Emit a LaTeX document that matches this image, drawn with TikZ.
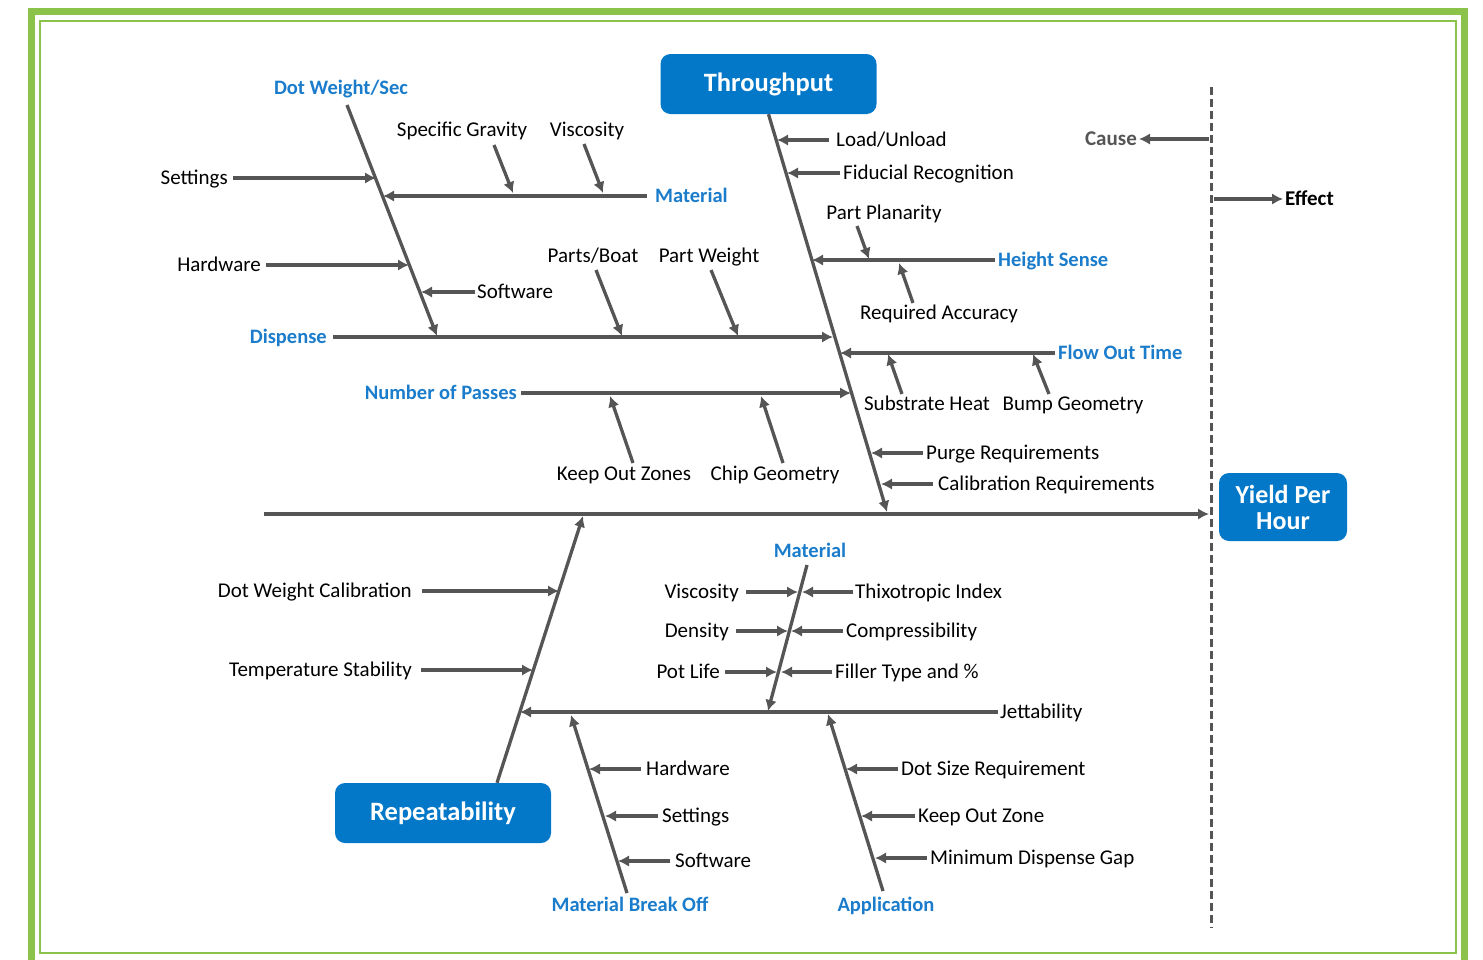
\documentclass[tikz,border=0pt]{standalone}
\usepackage{fontspec}
\setmainfont{Carlito}
\usetikzlibrary{arrows.meta,calc}
\definecolor{gline}{HTML}{555555}
\definecolor{boxblue}{HTML}{0478C8}
\definecolor{catblue}{HTML}{1A7CCB}
\definecolor{frame}{HTML}{8BC34A}
\tikzset{
  lab/.style={font=\fontsize{21}{24}\selectfont, text=black, inner sep=0pt, text height=13pt, text depth=0pt},
  cat/.style={lab, font=\bfseries\fontsize{20.5}{24}\selectfont, text=catblue},
  arr/.style={draw=gline, line width=3.3pt, -{Latex[length=11pt,width=11.5pt]}},
  box/.style={fill=boxblue, rounded corners=10pt, text=white, font=\bfseries\fontsize{26.5}{30}\selectfont, inner sep=0pt},
  dashline/.style={draw=gline, line width=3pt, dash pattern=on 8pt off 4pt}
}
\begin{document}
\begin{tikzpicture}[x=1pt,y=-1pt]
\useasboundingbox (0,0) rectangle (1483,959);
% frame
\draw[frame, line width=7pt] (31.5,11.5) rectangle (1464.5,990);
\draw[frame, line width=2pt] (40,20.5) rectangle (1455.5,952.5);

% ---------- nodes ----------
\node[box, minimum width=216pt, minimum height=60pt] (thr) at (768.5,84) {Throughput};
\node[box, minimum width=216pt, minimum height=60pt] (rep) at (443,813) {Repeatability};
\node[box, minimum width=128pt, minimum height=68pt, align=center, font=\bfseries\fontsize{26}{26}\selectfont] (yph) at (1283,507) {Yield Per\\Hour};

\node[lab, anchor=east, text=gline, font=\bfseries\fontsize{21}{24}\selectfont] (cause) at (1137,139) {Cause};
\node[lab, anchor=west, font=\bfseries\fontsize{21}{24}\selectfont] (eff) at (1285,199) {Effect};

\node[cat] (dws) at (341,88) {Dot Weight/Sec};
\node[lab, anchor=east] (set1) at (228,178) {Settings};
\node[lab, anchor=east] (hw1) at (261,265) {Hardware};
\node[lab, anchor=west] (sw1) at (477,292) {Software};
\node[cat, anchor=west] (mat1) at (655,196) {Material};
\node[lab] (sg) at (462,130) {Specific Gravity};
\node[lab] (vis1) at (587,130) {Viscosity};
\node[cat, anchor=east] (disp) at (327,337) {Dispense};
\node[lab] (pb) at (593,256) {Parts/Boat};
\node[lab] (pw) at (709,256) {Part Weight};
\node[lab, anchor=west] (lu) at (836,140) {Load/Unload};
\node[lab, anchor=west] (fr) at (843,173) {Fiducial Recognition};
\node[lab] (pp) at (884,213) {Part Planarity};
\node[cat, anchor=west] (hs) at (998,260) {Height Sense};
\node[lab] (ra) at (939,313) {Required Accuracy};
\node[cat, anchor=west] (fot) at (1058,353) {Flow Out Time};
\node[lab] (sh) at (927,404) {Substrate Heat};
\node[lab] (bg) at (1073,404) {Bump Geometry};
\node[cat, anchor=east] (nop) at (517,393) {Number of Passes};
\node[lab] (koz) at (624,474) {Keep Out Zones};
\node[lab] (cg) at (775,474) {Chip Geometry};
\node[lab, anchor=west] (pr) at (926,453) {Purge Requirements};
\node[lab, anchor=west] (cr) at (938,484) {Calibration Requirements};

\node[lab, anchor=east] (dwc) at (412,591) {Dot Weight Calibration};
\node[lab, anchor=east] (ts) at (412,670) {Temperature Stability};
\node[cat] (mat2) at (810,551) {Material};
\node[lab, anchor=east] (vis2) at (739,592) {Viscosity};
\node[lab, anchor=west] (ti) at (855,592) {Thixotropic Index};
\node[lab, anchor=east] (den) at (729,631) {Density};
\node[lab, anchor=west] (com) at (846,631) {Compressibility};
\node[lab, anchor=east] (pl) at (720,672) {Pot Life};
\node[lab, anchor=west] (ft) at (835,672) {Filler Type and \%};
\node[lab, anchor=west] (jet) at (1000,712) {Jettability};
\node[lab, anchor=west] (hw2) at (646,769) {Hardware};
\node[lab, anchor=west] (set2) at (662,816) {Settings};
\node[lab, anchor=west] (sw2) at (675,861) {Software};
\node[cat] (mbo) at (630,905) {Material Break Off};
\node[lab, anchor=west] (dsr) at (901,769) {Dot Size Requirement};
\node[lab, anchor=west] (kz) at (918,816) {Keep Out Zone};
\node[lab, anchor=west] (mdg) at (930,858) {Minimum Dispense Gap};
\node[cat] (app) at (886,905) {Application};

% ---------- coordinates ----------
\coordinate (spA) at (264,514);
\coordinate (spB) at (1209,514);
\coordinate (dashT) at (1211,87);
\coordinate (dashB) at (1211,928);
\coordinate (causeS) at (1209,139);
\coordinate (effS) at (1214,199);
\coordinate (effT) at (1283,199);

\coordinate (dwA) at (347,105);
\coordinate (dwB) at (437,336);
\coordinate (tbB) at (887,512);
\coordinate (rpB) at (583,516);
\coordinate (m2A) at (807,565);
\coordinate (m2B) at (768,711);
\coordinate (mbA) at (627,893);
\coordinate (mbB) at (571,715);
\coordinate (apA) at (883,891);
\coordinate (apB) at (828,714);

\coordinate (tSet1) at (376,178);
\coordinate (tMat1) at (383,196);
\coordinate (tHw1) at (409,265);
\coordinate (tSw1) at (421,292);
\coordinate (tSg) at (513,193);
\coordinate (tVis1) at (603,193);
\coordinate (tDisp) at (833,337);
\coordinate (tPb) at (622,336);
\coordinate (tPw) at (738,336);
\coordinate (tLu) at (777,140);
\coordinate (tFr) at (787,173);
\coordinate (tHs) at (812,260);
\coordinate (tPp) at (869,259);
\coordinate (tRa) at (899,263);
\coordinate (tFot) at (840,353);
\coordinate (tSh) at (888,354);
\coordinate (tBg) at (1033,354);
\coordinate (tNop) at (851,393);
\coordinate (tKoz) at (610,396);
\coordinate (tCg) at (761,396);
\coordinate (tPr) at (871,453);
\coordinate (tCr) at (881,484);

\coordinate (tDwc) at (559,591);
\coordinate (tTs) at (533,670);
\coordinate (tJet) at (520,712);
\coordinate (tVis2) at (798,592);
\coordinate (tTi) at (802,592);
\coordinate (tDen) at (788,631);
\coordinate (tCom) at (791,631);
\coordinate (tPl) at (777,672);
\coordinate (tFt) at (781,672);
\coordinate (tHw2) at (589,769);
\coordinate (tSet2) at (605,816);
\coordinate (tSw2) at (618,861);
\coordinate (tDsr) at (846,769);
\coordinate (tKz) at (861,816);
\coordinate (tMdg) at (875,858);

% ---------- spine, dashed line, legend ----------
\draw[arr] (spA) -- (spB);
\draw[dashline] (dashT) -- (dashB);
\draw[arr] (causeS) -- ([xshift=2pt]cause.east);
\draw[arr] (effS) -- (effT);

% ---------- main bones ----------
\draw[arr] (dwA) -- (dwB);
\draw[arr] (thr.south) -- (tbB);
\draw[arr] ([xshift=54pt]rep.north) -- (rpB);
\draw[arr] (m2A) -- (m2B);
\draw[arr] (mbA) -- (mbB);
\draw[arr] (apA) -- (apB);

% ---------- upper left branch ----------
\draw[arr] ([xshift=5pt]set1.east) -- (tSet1);
\draw[arr] ([xshift=-8pt]mat1.west) -- (tMat1);
\draw[arr] ([xshift=5pt]hw1.east) -- (tHw1);
\draw[arr] ([xshift=-2pt]sw1.west) -- (tSw1);
\draw[arr] ($(sg.center)+(32,15)$) -- (tSg);
\draw[arr] ($(vis1.center)+(-3,14)$) -- (tVis1);
\draw[arr] ([xshift=6pt]disp.east) -- (tDisp);
\draw[arr] ($(pb.center)+(3,14)$) -- (tPb);
\draw[arr] ($(pw.center)+(2,14)$) -- (tPw);

% ---------- upper right branch ----------
\draw[arr] ([xshift=-7pt]lu.west) -- (tLu);
\draw[arr] ([xshift=-3pt]fr.west) -- (tFr);
\draw[arr] ([xshift=-3pt]hs.west) -- (tHs);
\draw[arr] ($(pp.center)+(-27,13)$) -- (tPp);
\draw[arr] ($(ra.center)+(-26,-10)$) -- (tRa);
\draw[arr] ([xshift=-3pt]fot.west) -- (tFot);
\draw[arr] ($(sh.center)+(-25,-10)$) -- (tSh);
\draw[arr] ($(bg.center)+(-24,-10)$) -- (tBg);
\draw[arr] ([xshift=4pt]nop.east) -- (tNop);
\draw[arr] ($(koz.center)+(9,-11)$) -- (tKoz);
\draw[arr] ($(cg.center)+(8,-11)$) -- (tCg);
\draw[arr] ([xshift=-3pt]pr.west) -- (tPr);
\draw[arr] ([xshift=-5pt]cr.west) -- (tCr);

% ---------- lower branches ----------
\draw[arr] ([xshift=10pt]dwc.east) -- (tDwc);
\draw[arr] ([xshift=9pt]ts.east) -- (tTs);
\draw[arr] ([xshift=-2pt]jet.west) -- (tJet);
\draw[arr] ([xshift=7pt]vis2.east) -- (tVis2);
\draw[arr] ([xshift=-2pt]ti.west) -- (tTi);
\draw[arr] ([xshift=7pt]den.east) -- (tDen);
\draw[arr] ([xshift=-3pt]com.west) -- (tCom);
\draw[arr] ([xshift=5pt]pl.east) -- (tPl);
\draw[arr] ([xshift=-3pt]ft.west) -- (tFt);
\draw[arr] ([xshift=-5pt]hw2.west) -- (tHw2);
\draw[arr] ([xshift=-4pt]set2.west) -- (tSet2);
\draw[arr] ([xshift=-5pt]sw2.west) -- (tSw2);
\draw[arr] ([xshift=-3pt]dsr.west) -- (tDsr);
\draw[arr] ([xshift=-3pt]kz.west) -- (tKz);
\draw[arr] ([xshift=-3pt]mdg.west) -- (tMdg);
\end{tikzpicture}
\end{document}
